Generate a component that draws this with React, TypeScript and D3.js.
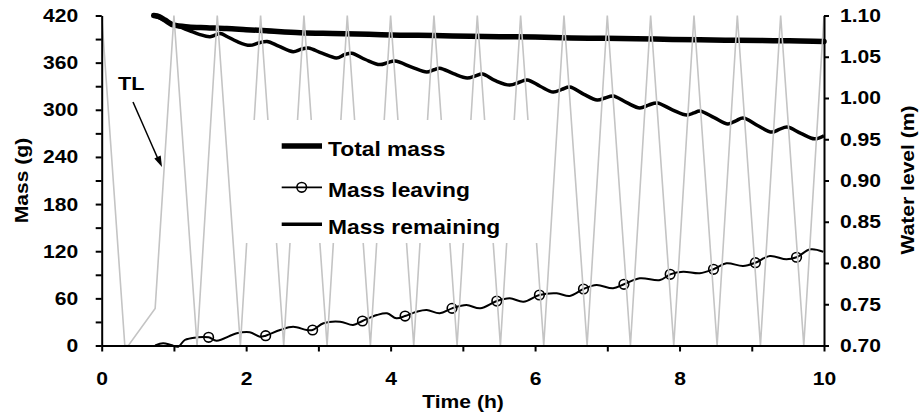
import React, { useEffect, useRef } from 'react';
import * as d3 from 'd3';

// total mass (g) vs time (h)
const totalTime = [0.72, 0.8, 0.88, 0.99, 1.2, 1.45, 1.73, 2.0, 2.28, 2.75, 3.2, 3.7, 4.13, 4.6, 5.1, 5.51, 6.0, 6.5, 6.9, 7.4, 7.9, 8.28, 8.8, 9.3, 9.67, 10.0];
const totalMass = [420, 418.5, 414, 408, 405.5, 404.5, 403.5, 402, 400.5, 398, 397, 396, 395, 394.5, 393.5, 393, 392.5, 391.5, 391, 390.5, 389.5, 389, 388.5, 388, 387.5, 387];

// mass remaining (g)
const remainTime = [0.72, 0.85, 0.99, 1.08, 1.22, 1.35, 1.5, 1.64, 1.74, 1.87, 2.05, 2.17, 2.29, 2.45, 2.65, 2.76, 2.86, 3.05, 3.25, 3.36, 3.46, 3.65, 3.85, 3.96, 4.06, 4.3, 4.5, 4.6, 4.68, 4.87, 5.06, 5.17, 5.27, 5.45, 5.65, 5.78, 5.89, 6.07, 6.25, 6.37, 6.48, 6.67, 6.86, 6.97, 7.08, 7.27, 7.45, 7.57, 7.69, 7.9, 8.1, 8.2, 8.28, 8.48, 8.67, 8.78, 8.88, 9.08, 9.28, 9.38, 9.49, 9.68, 9.87, 10.0];
const remainMass = [420, 415, 408.5, 405.5, 400.5, 396, 393, 397, 393, 387, 382, 385, 387, 381, 374, 377, 378.6, 372, 366, 370, 372, 364, 357.5, 360, 362, 354, 348, 351, 353, 346, 340.5, 343, 345.5, 337, 331.5, 335, 338, 330, 322.6, 326, 329, 320, 312.4, 315, 317.5, 309, 302.3, 306, 308.6, 300, 293.3, 296, 298.4, 290, 282, 286, 289.5, 280, 271.6, 275, 278, 270, 263, 267];

// mass leaving (g)
const leaveTime = [0.74, 0.85, 0.96, 1.06, 1.15, 1.32, 1.48, 1.59, 1.87, 2.05, 2.19, 2.27, 2.47, 2.65, 2.84, 2.92, 3.07, 3.3, 3.48, 3.61, 3.81, 3.95, 4.08, 4.2, 4.36, 4.5, 4.68, 4.85, 5.05, 5.24, 5.47, 5.65, 5.84, 6.06, 6.3, 6.48, 6.67, 6.85, 7.08, 7.23, 7.45, 7.73, 7.87, 8.05, 8.28, 8.47, 8.65, 8.88, 9.05, 9.25, 9.48, 9.62, 9.81, 9.99];
const leaveMass = [0, 2.8, 0.6, -1.5, 7, 10.4, 10.4, 6.1, 15.5, 16.8, 11.2, 12.5, 19.7, 23.9, 19.7, 19.7, 28.3, 30.3, 26.1, 31.2, 38.8, 41, 34.6, 37.5, 43, 45.2, 41, 47.3, 51.5, 47.3, 56.6, 60, 55.7, 64.3, 66.4, 63, 71.9, 77, 72.8, 77.9, 85.5, 83.4, 90.6, 93.9, 91.9, 97, 104.6, 101.2, 105.4, 113.9, 109.7, 112.3, 122.4, 119.4];
const markerTime = [1.48, 2.27, 2.92, 3.61, 4.2, 4.85, 5.47, 6.06, 6.67, 7.23, 7.87, 8.47, 9.05, 9.62];
const markerMass = [10.4, 12.5, 19.7, 31.2, 37.5, 47.3, 56.6, 64.3, 71.9, 77.9, 90.6, 97, 105.4, 112.3];

// water level TL (m)
const levelTime = [0, 0.32, 0.37, 0.74, 1.0, 1.32, 1.6, 1.92, 2.2, 2.52, 2.8, 3.12, 3.4, 3.72, 4.0, 4.32, 4.6, 4.92, 5.2, 5.52, 5.8, 6.12, 6.4, 6.72, 7.0, 7.32, 7.6, 7.92, 8.2, 8.52, 8.8, 9.12, 9.4, 9.72, 10.0];
const levelValue = [1.1, 0.7, 0.7, 0.745, 1.1, 0.7, 1.1, 0.7, 1.1, 0.7, 1.1, 0.7, 1.1, 0.7, 1.1, 0.7, 1.1, 0.7, 1.1, 0.7, 1.1, 0.7, 1.1, 0.7, 1.1, 0.7, 1.1, 0.7, 1.1, 0.7, 1.1, 0.7, 1.1, 0.7, 1.1];

const massTicks = [0, 30, 60, 90, 120, 150, 180, 210, 240, 270, 300, 330, 360, 390, 420];
const timeTicks = [0, 1, 2, 3, 4, 5, 6, 7, 8, 9, 10];
const levelTicks = [0.7, 0.75, 0.8, 0.85, 0.9, 0.95, 1.0, 1.05, 1.1];

const legendLabels = ['Total mass', 'Mass leaving', 'Mass remaining'];

const W = 919;
const H = 415;
const FONT = "'Liberation Sans', Arial, Helvetica, sans-serif";
const SX = 1.14; // glyphs in the original are a bit wide

export default function App() {
  const ref = useRef<SVGSVGElement>(null);

  useEffect(() => {
    const svg = d3.select(ref.current);
    svg.selectAll('*').remove();

    const x = d3.scaleLinear().domain([0, 10]).range([101.7, 824]);
    const yMass = d3.scaleLinear().domain([0, 420]).range([345.5, 15.5]);
    const yLevel = d3.scaleLinear().domain([0.7, 1.1]).range([345.5, 15.5]);

    const path = (ts: number[], vs: number[], y: any, curve: any) =>
      d3.line<number>()
        .x((d, i) => x(ts[i]))
        .y((d) => y(d))
        .curve(curve)(vs);

    // black series
    svg.append('path')
      .attr('d', path(totalTime, totalMass, yMass, d3.curveMonotoneX))
      .attr('fill', 'none')
      .attr('stroke', '#000')
      .attr('stroke-width', 5.5)
      .attr('stroke-linecap', 'round');

    svg.append('path')
      .attr('d', path(remainTime, remainMass, yMass, d3.curveCatmullRom))
      .attr('fill', 'none')
      .attr('stroke', '#000')
      .attr('stroke-width', 3.5);

    svg.append('path')
      .attr('d', path(leaveTime, leaveMass, yMass, d3.curveCatmullRom))
      .attr('fill', 'none')
      .attr('stroke', '#000')
      .attr('stroke-width', 2);

    svg.append('g')
      .selectAll('circle')
      .data(markerTime)
      .enter()
      .append('circle')
        .attr('cx', (d) => x(d))
        .attr('cy', (d, i) => yMass(markerMass[i]))
        .attr('r', 4.8)
        .attr('fill', 'none')
        .attr('stroke', '#000')
        .attr('stroke-width', 1.6);

    // water level
    svg.append('path')
      .attr('d', path(levelTime, levelValue, yLevel, d3.curveLinear))
      .attr('fill', 'none')
      .attr('stroke', '#c4c4c4')
      .attr('stroke-width', 1.6);

    // legend box hides the level line behind it
    const legend = svg.append('g');
    legend.append('rect')
      .attr('x', 245).attr('y', 120)
      .attr('width', 300).attr('height', 123)
      .attr('fill', '#fff');

    const rowY = [146, 187.3, 224.3];
    const rowW = [5.5, 1.8, 3.5];
    legendLabels.forEach((label, i) => {
      legend.append('line')
        .attr('x1', 281.7).attr('x2', 322)
        .attr('y1', rowY[i]).attr('y2', rowY[i])
        .attr('stroke', '#000')
        .attr('stroke-width', rowW[i]);
      if (i === 1) {
        legend.append('circle')
          .attr('cx', 301.7).attr('cy', rowY[i]).attr('r', 4.8)
          .attr('fill', 'none').attr('stroke', '#000').attr('stroke-width', 1.6);
      }
      legend.append('text')
        .attr('transform', `translate(328,${rowY[i] + 9.5}) scale(${SX},1)`)
        .attr('font-family', FONT)
        .attr('font-weight', 'bold')
        .attr('font-size', 20)
        .text(label);
    });

    // axes
    const styleAxis = (g: any) => {
      g.attr('font-family', FONT).attr('font-size', 18.5).attr('font-weight', 'bold');
      g.select('.domain').attr('stroke-width', 2).attr('stroke', '#000');
      g.selectAll('.tick line').attr('stroke-width', 2).attr('stroke', '#000');
      g.selectAll('.tick text').attr('fill', '#000');
    };

    const gLeft = svg.append('g')
      .attr('transform', `translate(${x(0)},0)`)
      .call(d3.axisLeft(yMass)
        .tickValues(massTicks)
        .tickSizeInner(6)
        .tickSizeOuter(0)
        .tickFormat((d: any) => (d % 60 === 0 ? String(d) : '')));
    styleAxis(gLeft);
    gLeft.selectAll('.tick text')
      .attr('x', null)
      .attr('transform', `translate(-23.5,0) scale(${SX},1)`);

    const gBottom = svg.append('g')
      .attr('transform', `translate(0,${yMass(0)})`)
      .call(d3.axisBottom(x)
        .tickValues(timeTicks)
        .tickSizeInner(6)
        .tickSizeOuter(0)
        .tickFormat((d: any) => (d % 2 === 0 ? String(d) : '')));
    styleAxis(gBottom);
    gBottom.selectAll('.tick text')
      .attr('y', null)
      .attr('dy', null)
      .attr('transform', `translate(0,39.5) scale(${SX},1)`);

    const gRight = svg.append('g')
      .attr('transform', `translate(${x(10)},0)`)
      .call(d3.axisRight(yLevel)
        .tickValues(levelTicks)
        .tickSizeInner(5)
        .tickSizeOuter(0)
        .tickFormat(d3.format('.2f') as any));
    styleAxis(gRight);
    gRight.selectAll('.tick text')
      .attr('x', null)
      .attr('transform', `translate(16,0) scale(${SX},1)`);

    // axis titles
    const title = (tr: string, txt: string) =>
      svg.append('text')
        .attr('transform', tr)
        .attr('text-anchor', 'middle')
        .attr('font-family', FONT)
        .attr('font-weight', 'bold')
        .attr('font-size', 18.5)
        .text(txt);

    title(`translate(463,408) scale(${SX},1)`, 'Time (h)');
    title(`translate(28,180.5) rotate(-90) scale(${SX},1)`, 'Mass (g)');
    title(`translate(914,180) rotate(-90) scale(${SX},1)`, 'Water level (m)');

    // TL annotation
    svg.append('text')
      .attr('transform', `translate(118,90) scale(${SX},1)`)
      .attr('font-family', FONT)
      .attr('font-weight', 'bold')
      .attr('font-size', 19)
      .text('TL');
    svg.append('line')
      .attr('x1', 133).attr('y1', 102)
      .attr('x2', 158).attr('y2', 159)
      .attr('stroke', '#000')
      .attr('stroke-width', 1.5);
    svg.append('polygon')
      .attr('points', '162,167 154.3,158.4 160.7,155.6')
      .attr('fill', '#000');
  }, []);

  return (
    <svg
      ref={ref}
      width={W}
      height={H}
      style={{ position: 'absolute', left: 0, top: 0, background: '#fff' }}
    />
  );
}
